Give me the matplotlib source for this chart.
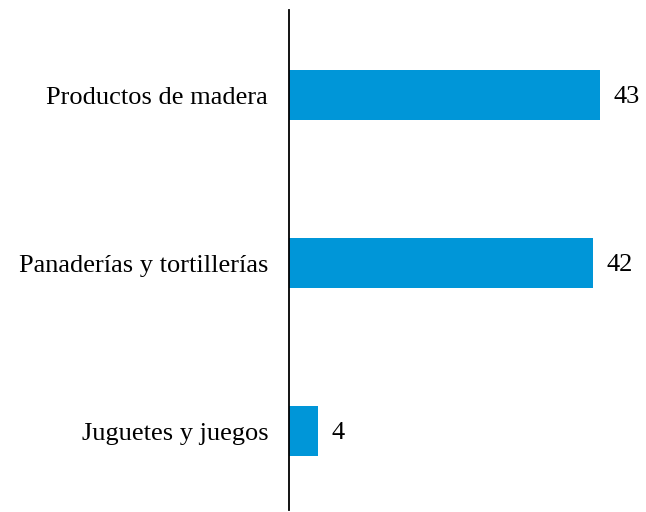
import matplotlib
matplotlib.use("Agg")
import matplotlib.pyplot as plt

categories = ["Juguetes y juegos", "Panaderías y tortillerías", "Productos de madera"]
values = [4, 42, 43]

plt.rcParams['font.family'] = ['Liberation Serif', 'DejaVu Serif']

fig = plt.figure(figsize=(6.46, 5.12), dpi=100)
ax = fig.add_axes([289/646, 2/512, 351/646, 500/512])
y = list(range(len(categories)))
ax.barh(y, values, height=0.3, color="#0096D8")
ax.set_xlim(0, 351/7.23)
ax.set_ylim(-0.47, 2.506)
for s in ["top", "right", "bottom"]:
    ax.spines[s].set_visible(False)
ax.spines["left"].set_linewidth(1.3)
ax.spines["left"].set_color("black")
ax.set_xticks([])
ax.set_yticks(y)
ax.set_yticklabels(categories, fontsize=19)
ax.tick_params(axis='y', length=0, pad=15)
for yi, v in zip(y, values):
    ax.annotate(str(v), (v, yi), xytext=(14, -2), textcoords="offset pixels",
                va="center", ha="left", fontsize=19)
fig.savefig("out.png", dpi=100)
